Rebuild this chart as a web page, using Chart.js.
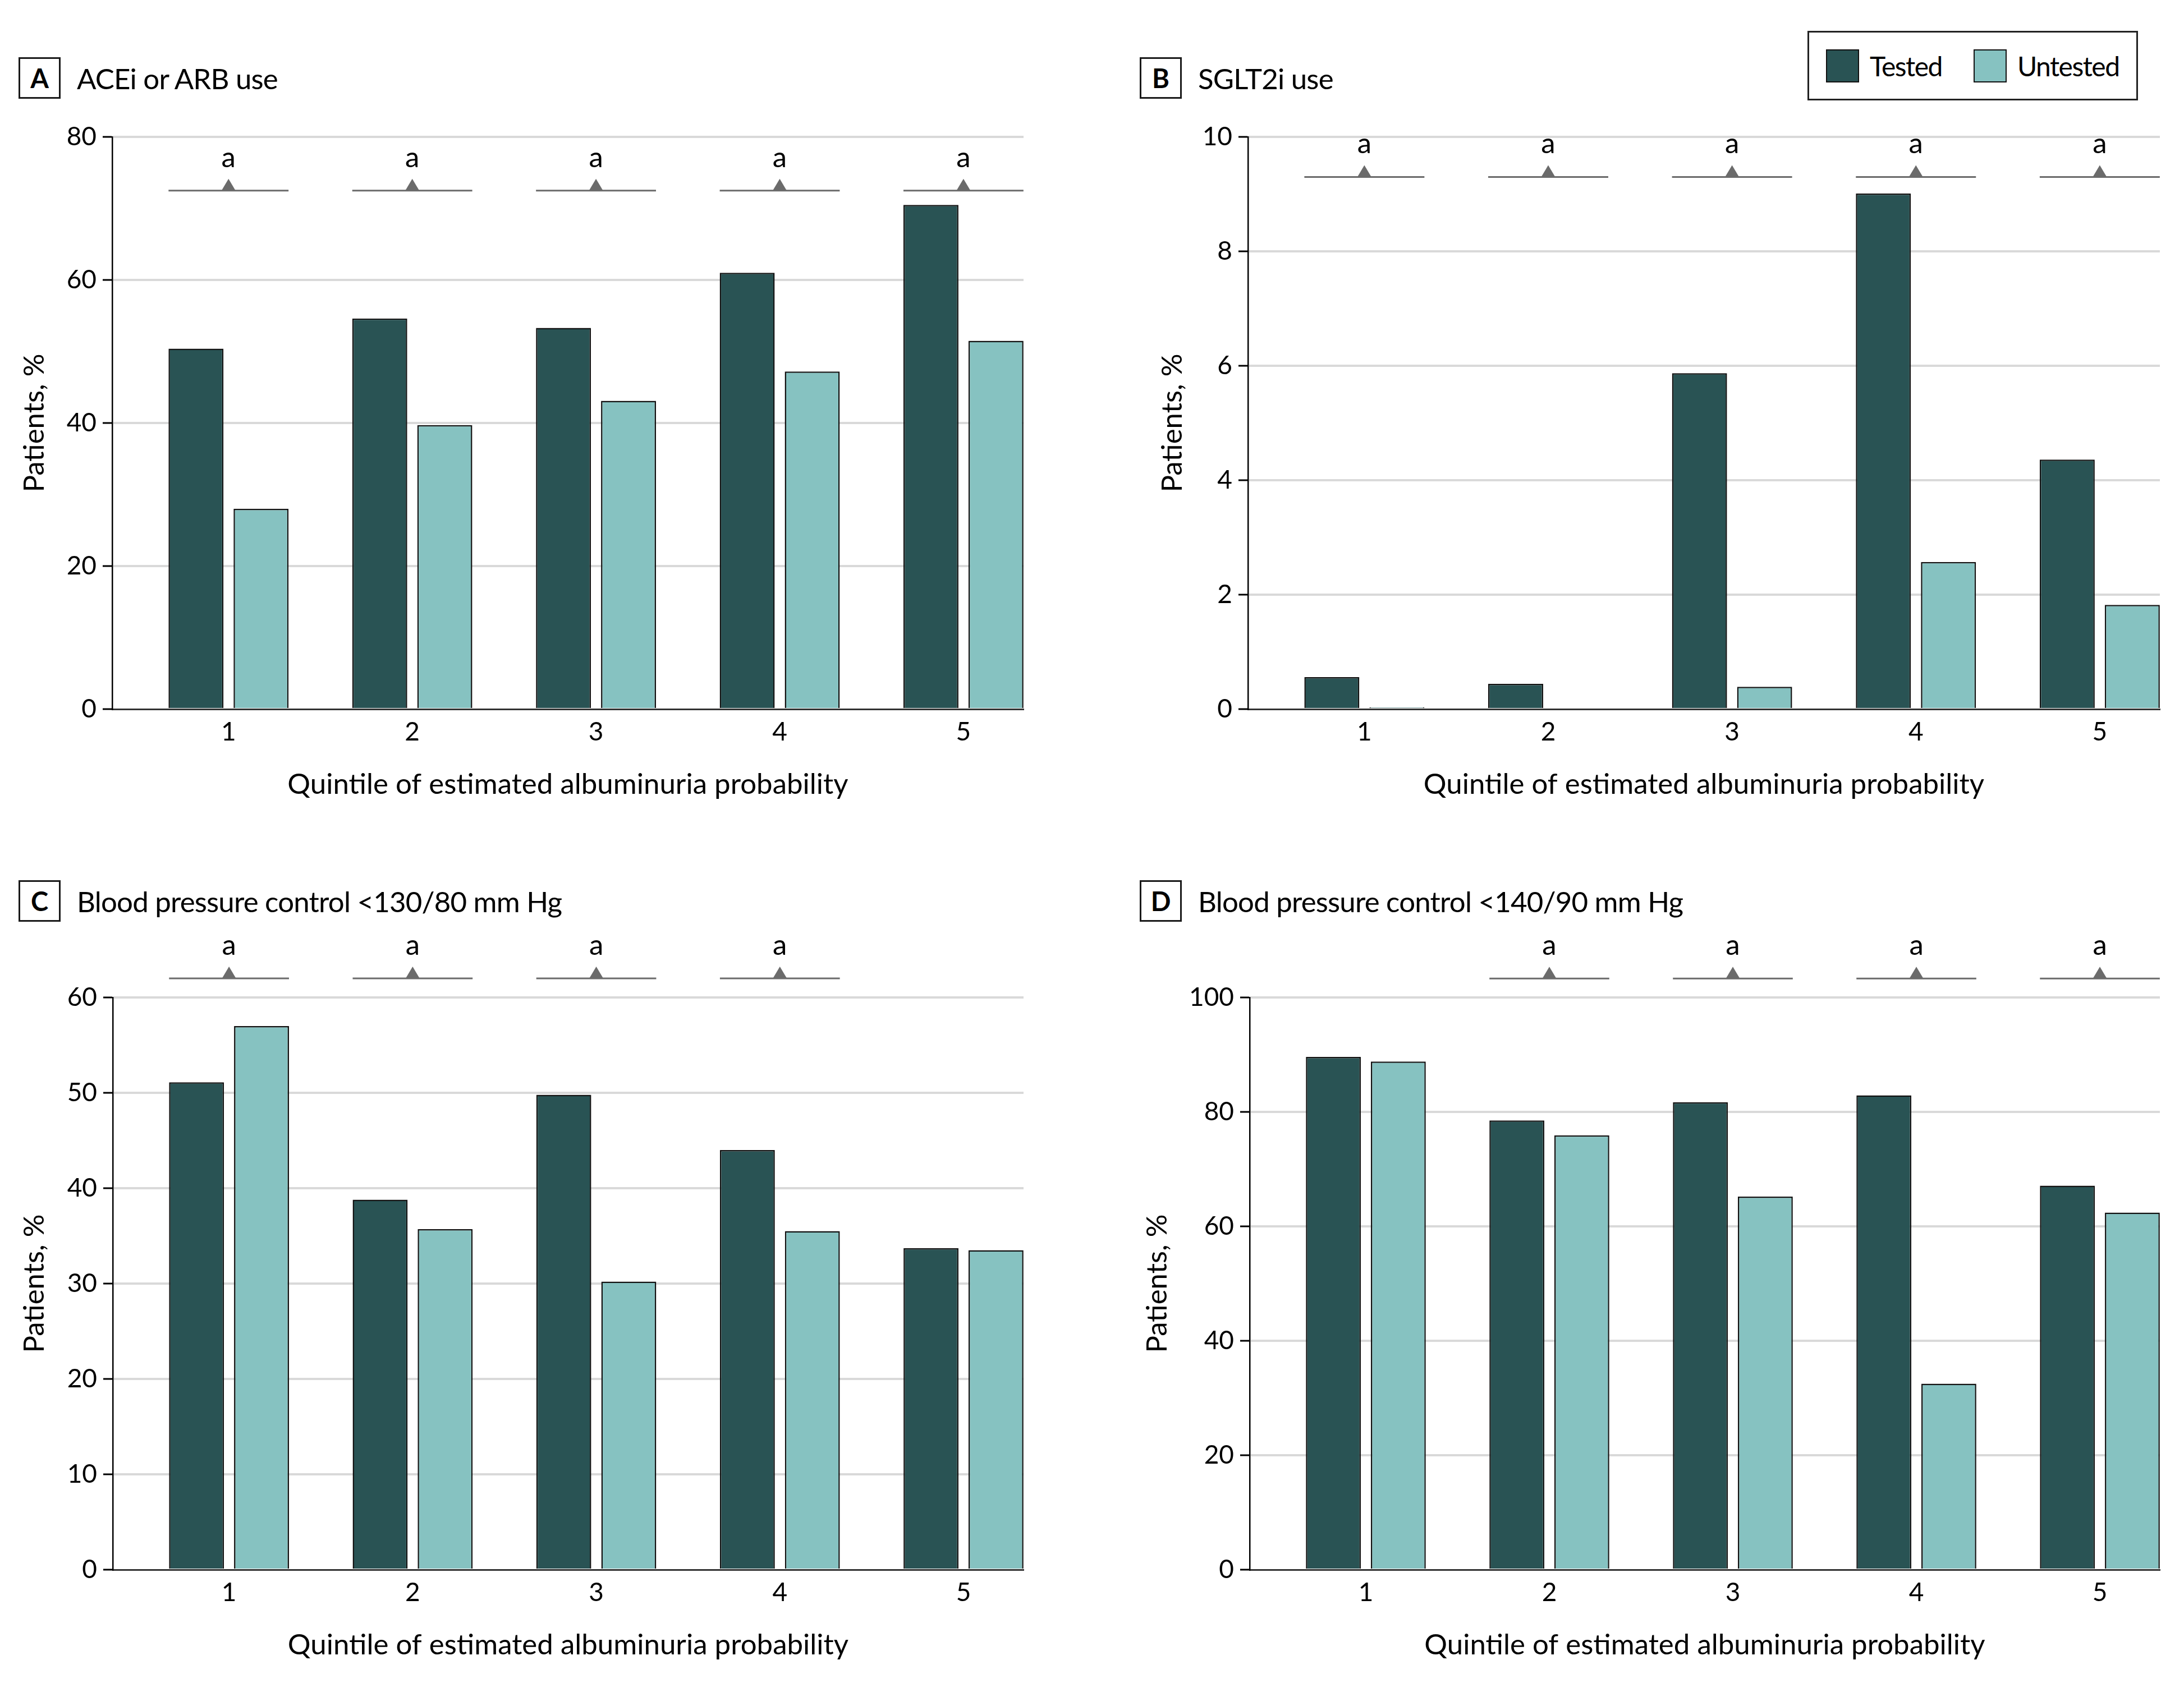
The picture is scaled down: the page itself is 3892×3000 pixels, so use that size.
<!DOCTYPE html>
<html>
<head>
<meta charset="utf-8">
<script src="https://cdn.jsdelivr.net/npm/chart.js@4.4.1/dist/chart.umd.min.js"></script>
<style>
  body { margin: 0; background: #fff; font-family: Lato, sans-serif; color: #000; }
  #page { position: relative; width: 3892px; height: 3000px; overflow: hidden; }
  .head { position: absolute; height: 74px; display: flex; align-items: center; white-space: nowrap; }
  .tag { box-sizing: border-box; width: 75px; height: 74px; border: 3px solid #1a1a1a; flex-shrink: 0;
         font-weight: bold; font-size: 47px; display: flex; align-items: center; justify-content: center; }
  .ttl { font-size: 51px; margin-left: 29px; letter-spacing: -0.8px; }
  canvas { position: absolute; }
  #legend { position: absolute; left: 3221px; top: 55px; width: 589px; height: 124px; box-sizing: border-box;
            border: 3px solid #222; }
  .item { position: absolute; top: 0; height: 118px; display: flex; align-items: center; white-space: nowrap; }
  .sw { width: 59px; height: 59px; box-sizing: border-box; border: 2.5px solid #111; margin-right: 19px; flex-shrink: 0; }
  .lab { font-size: 48px; letter-spacing: -1.5px; }
</style>
</head>
<body>
<div id="page"><div id="legend"></div></div>
<script>
// quintiles and series
const quintiles = [1, 2, 3, 4, 5];
const seriesNames = ['Tested', 'Untested'];
const seriesColors = ['#295354', '#86c2c1'];

// A: ACEi or ARB use (%)
const aceTested   = [50.4, 54.6, 53.3, 61.0, 70.5];
const aceUntested = [28.0, 39.7, 43.1, 47.2, 51.5];
// B: SGLT2i use (%)
const sgltTested   = [0.56, 0.44, 5.87, 9.01, 4.36];
const sgltUntested = [0.03, 0.02, 0.39, 2.57, 1.82];
// C: BP control <130/80 (%)
const bp130Tested   = [51.1, 38.8, 49.8, 44.0, 33.7];
const bp130Untested = [57.0, 35.7, 30.2, 35.5, 33.5];
// D: BP control <140/90 (%)
const bp140Tested   = [89.6, 78.5, 81.7, 82.9, 67.1];
const bp140Untested = [88.8, 75.9, 65.2, 32.5, 62.4];

// significance marks ("a") per quintile
const sigA = [1, 1, 1, 1, 1];
const sigB = [1, 1, 1, 1, 1];
const sigC = [1, 1, 1, 1, 0];
const sigD = [0, 1, 1, 1, 1];

// y tick labels
const yTicksA = [0, 20, 40, 60, 80];
const yTicksB = [0, 2, 4, 6, 8, 10];
const yTicksC = [0, 10, 20, 30, 40, 50, 60];
const yTicksD = [0, 20, 40, 60, 80, 100];

const xTitle = 'Quintile of estimated albuminuria probability';
const yTitle = 'Patients, %';

const panels = [
  {tag: 'A', title: 'ACEi or ARB use', tested: aceTested, untested: aceUntested, yTicks: yTicksA, sig: sigA, sigLevel: 72.5,
   area: {l: 200, t: 244, r: 1824, b: 1264}, yTitleX: 62, tagX: 33, tagY: 102},
  {tag: 'B', title: 'SGLT2i use', tested: sgltTested, untested: sgltUntested, yTicks: yTicksB, sig: sigB, sigLevel: 9.3,
   area: {l: 2224, t: 244, r: 3849, b: 1264}, yTitleX: 2090, tagX: 2031, tagY: 102},
  {tag: 'C', title: 'Blood pressure control <130/80 mm Hg', tested: bp130Tested, untested: bp130Untested, yTicks: yTicksC, sig: sigC, sigLevel: 62,
   area: {l: 201, t: 1778, r: 1824, b: 2798}, yTitleX: 62, tagX: 33, tagY: 1569},
  {tag: 'D', title: 'Blood pressure control <140/90 mm Hg', tested: bp140Tested, untested: bp140Untested, yTicks: yTicksD, sig: sigD, sigLevel: 103.3,
   area: {l: 2227, t: 1778, r: 3849, b: 2798}, yTitleX: 2063, tagX: 2031, tagY: 1569}
];

const FONT = 'Lato';
const Y_AXIS_W = 200, PAD_TOP = 244, PAD_RIGHT = 60, X_AXIS_H = 180;

// draws the bracket, triangle and "a" above each flagged quintile
const sigMarks = {
  id: 'sigMarks',
  afterDatasetsDraw(chart, args, opts) {
    const ctx = chart.ctx;
    const m0 = chart.getDatasetMeta(0), m1 = chart.getDatasetMeta(1);
    const y = chart.scales.y.getPixelForValue(opts.level);
    opts.flags.forEach(function(f, i) {
      if (!f) return;
      const b0 = m0.data[i], b1 = m1.data[i];
      const x0 = b0.x - b0.width / 2, x1 = b1.x + b1.width / 2;
      const cx = chart.scales.x.getPixelForValue(quintiles[i]);
      ctx.save();
      ctx.strokeStyle = '#6b6b6b';
      ctx.fillStyle = '#6b6b6b';
      ctx.lineWidth = 3;
      ctx.beginPath(); ctx.moveTo(x0, y); ctx.lineTo(x1, y); ctx.stroke();
      ctx.beginPath(); ctx.moveTo(cx - 12.5, y); ctx.lineTo(cx, y - 21); ctx.lineTo(cx + 12.5, y); ctx.closePath(); ctx.fill();
      ctx.fillStyle = '#000';
      ctx.font = '51px ' + FONT;
      ctx.textAlign = 'center';
      ctx.textBaseline = 'alphabetic';
      ctx.fillText('a', cx, y - 42);
      ctx.restore();
    });
  }
};

const page = document.getElementById('page');

// legend
const legend = document.getElementById('legend');
const legendX = [30, 293];
seriesNames.forEach(function(n, i) {
  const it = document.createElement('div');
  it.className = 'item';
  it.style.left = legendX[i] + 'px';
  const sw = document.createElement('div');
  sw.className = 'sw';
  sw.style.background = seriesColors[i];
  const lb = document.createElement('div');
  lb.className = 'lab';
  lb.textContent = n;
  it.appendChild(sw);
  it.appendChild(lb);
  legend.appendChild(it);
});

// x range: leaves room left of quintile 1, flush right of quintile 5
const xMin = 0.367, xMax = 5.327;

panels.forEach(function(p) {
  const head = document.createElement('div');
  head.className = 'head';
  head.style.left = p.tagX + 'px';
  head.style.top = p.tagY + 'px';
  head.innerHTML = '<div class="tag"></div><div class="ttl"></div>';
  head.querySelector('.tag').textContent = p.tag;
  head.querySelector('.ttl').textContent = p.title;
  page.appendChild(head);

  const a = p.area;
  const cLeft = a.l - Y_AXIS_W, cTop = a.t - PAD_TOP;
  const cv = document.createElement('canvas');
  cv.width = a.r - cLeft + PAD_RIGHT;
  cv.height = a.b - cTop + X_AXIS_H;
  cv.style.left = cLeft + 'px';
  cv.style.top = cTop + 'px';
  page.appendChild(cv);

  const yTitlePad = p.yTitleX - cLeft - 30.6;

  new Chart(cv, {
    type: 'bar',
    data: {
      datasets: [p.tested, p.untested].map(function(vals, k) {
        return {
          label: seriesNames[k],
          data: quintiles.map(function(q, i) { return {x: q, y: vals[i]}; }),
          backgroundColor: seriesColors[k],
          borderColor: '#111',
          borderWidth: 2.5,
          categoryPercentage: 0.708,
          barPercentage: 0.845
        };
      })
    },
    options: {
      responsive: false,
      animation: false,
      devicePixelRatio: 1,
      layout: {padding: {top: PAD_TOP, right: PAD_RIGHT, bottom: 0, left: 0}},
      plugins: {
        legend: {display: false},
        tooltip: {enabled: false},
        sigMarks: {flags: p.sig, level: p.sigLevel}
      },
      scales: {
        x: {
          type: 'linear',
          min: xMin,
          max: xMax,
          offset: false,
          afterBuildTicks: function(s) { s.ticks = quintiles.map(function(v) { return {value: v}; }); },
          afterFit: function(s) { s.height = X_AXIS_H; },
          grid: {display: false, drawTicks: false, offset: false},
          border: {display: true, color: '#333', width: 3},
          ticks: {color: '#000', font: {family: FONT, size: 46}, padding: 14},
          title: {display: true, text: xTitle, color: '#000', font: {family: FONT, size: 51}, padding: {top: 0, bottom: 15}}
        },
        y: {
          min: p.yTicks[0],
          max: p.yTicks[p.yTicks.length - 1],
          afterBuildTicks: function(s) { s.ticks = p.yTicks.map(function(v) { return {value: v}; }); },
          afterFit: function(s) { s.width = Y_AXIS_W; },
          grid: {
            color: function(c) { return c.tick && c.tick.value === 0 ? 'rgba(0,0,0,0)' : '#d9d9d9'; },
            lineWidth: 4,
            tickColor: '#000',
            tickWidth: 3,
            tickLength: 17
          },
          border: {display: true, color: '#000', width: 2.5},
          ticks: {color: '#000', font: {family: FONT, size: 46}, padding: 11},
          title: {display: true, text: yTitle, color: '#000', font: {family: FONT, size: 51}, padding: {top: yTitlePad, bottom: 0}}
        }
      }
    },
    plugins: [sigMarks]
  });
});
</script>
</body>
</html>
